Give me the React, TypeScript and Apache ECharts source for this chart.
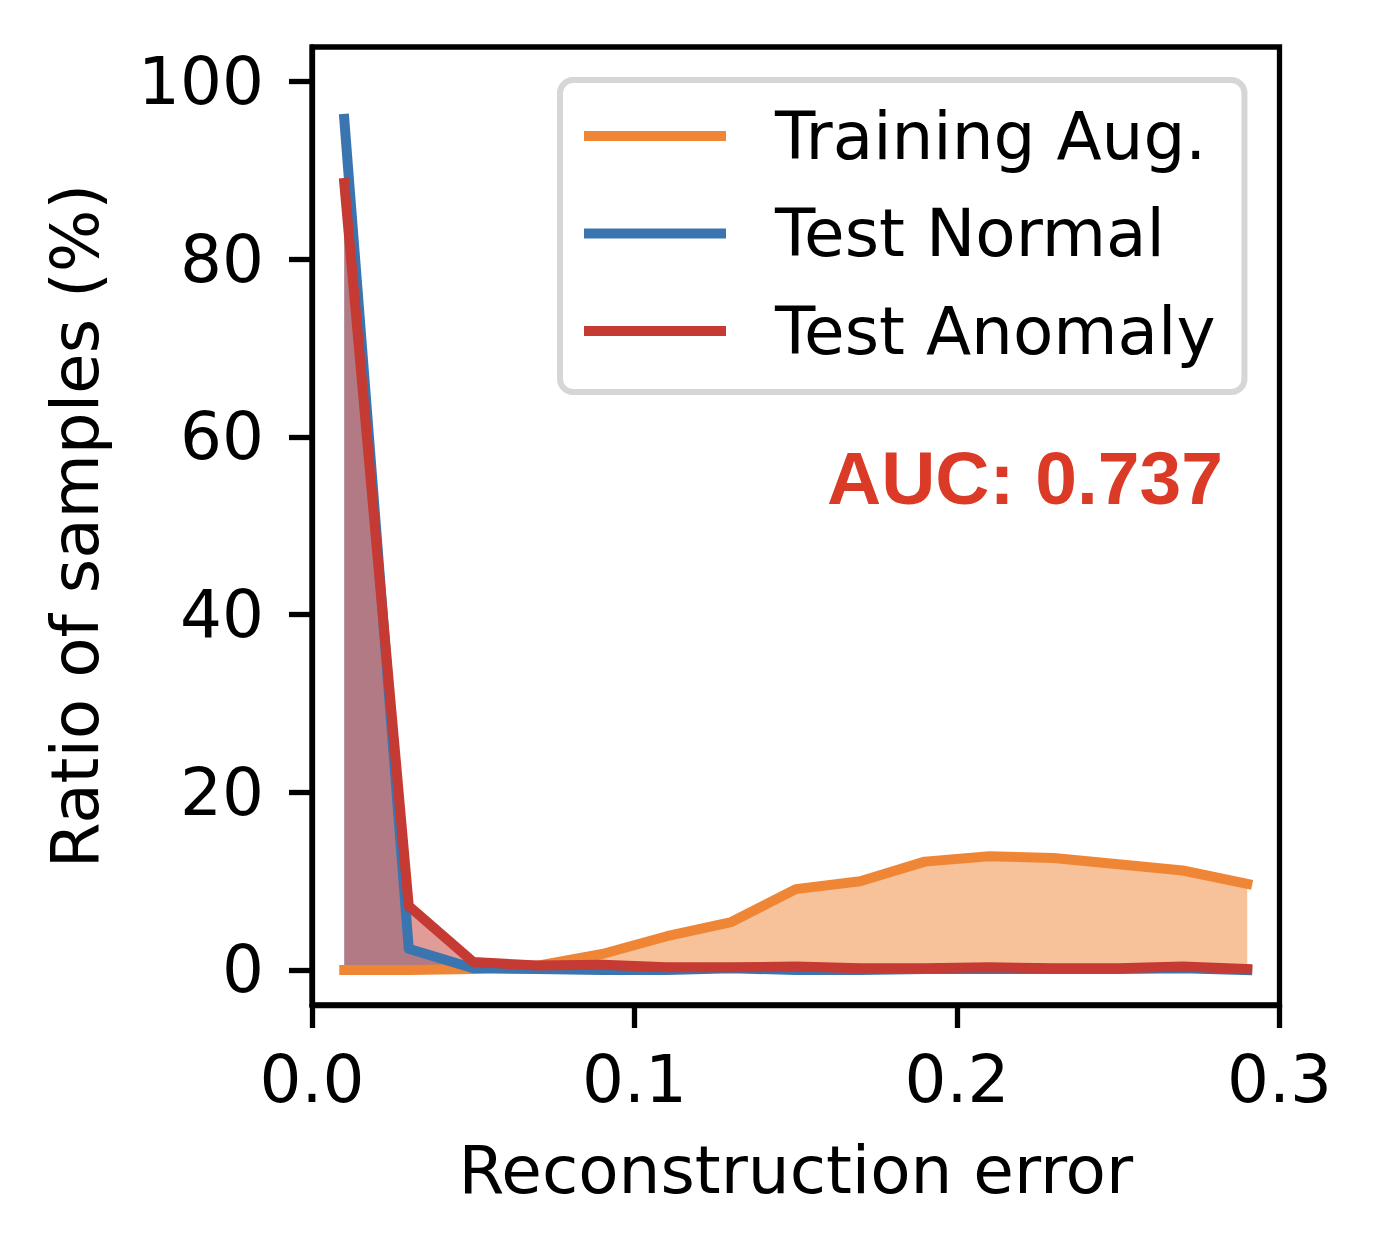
import React, { useEffect, useRef } from "react";
import * as echarts from "echarts";

const errorBins = [0.01, 0.03, 0.05, 0.07, 0.09, 0.11, 0.13, 0.15, 0.17, 0.19, 0.21, 0.23, 0.25, 0.27, 0.29];
const trainingAug = [0.0, 0.0, 0.1, 0.5, 1.8, 3.8, 5.4, 9.1, 10.0, 12.2, 12.8, 12.6, 11.9, 11.2, 9.7];
const testNormal = [95.8, 2.4, 0.2, 0.1, 0.0, 0.0, 0.2, 0.0, 0.0, 0.1, 0.1, 0.1, 0.1, 0.2, 0.0];
const testAnomaly = [88.6, 7.2, 0.9, 0.5, 0.6, 0.3, 0.3, 0.4, 0.2, 0.2, 0.3, 0.2, 0.2, 0.4, 0.1];

const seriesNames = ["Training Aug.", "Test Normal", "Test Anomaly"];
const seriesColors = ["#EF8636", "#3B75AF", "#C53A32"];
const xTickValues = [0, 0.1, 0.2, 0.3];
const yTickValues = [0, 20, 40, 60, 80, 100];
const xAxisTitle = "Reconstruction error";
const yAxisTitle = "Ratio of samples (%)";
const aucLabel = "AUC: 0.737";

const FONT = "DejaVu Sans";
const FS = 66;
const SPINE = 5.3;

export default function App() {
  const ref = useRef<HTMLDivElement>(null);

  useEffect(() => {
    if (!ref.current) return;
    const chart = echarts.init(ref.current, undefined, { renderer: "svg" });
    const allSeries = [trainingAug, testNormal, testAnomaly];
    const pairs = allSeries.map((vals) => errorBins.map((x, i) => [x, vals[i]]));

    const fillSeries = pairs.map((data, i) => ({
      type: "line",
      name: seriesNames[i] + " fill",
      data,
      symbol: "none",
      showSymbol: false,
      silent: true,
      z: 2,
      lineStyle: { width: 0, opacity: 0 },
      itemStyle: { color: seriesColors[i] },
      areaStyle: { color: seriesColors[i], opacity: 0.5, origin: 0 },
    }));
    const lineSeries = pairs.map((data, i) => ({
      type: "line",
      name: seriesNames[i],
      data,
      symbol: "none",
      showSymbol: false,
      z: 3,
      itemStyle: { color: seriesColors[i] },
      lineStyle: { width: 10, color: seriesColors[i], join: "round", cap: "square" },
    }));

    chart.setOption({
      animation: false,
      backgroundColor: "#ffffff",
      grid: {
        left: 312,
        right: 100.5,
        top: 47,
        bottom: 251,
        show: true,
        borderColor: "#000",
        borderWidth: SPINE,
        backgroundColor: "transparent",
        containLabel: false,
      },
      xAxis: {
        type: "value",
        min: 0,
        max: 0.3,
        interval: 0.1,
        name: xAxisTitle,
        nameLocation: "middle",
        nameGap: 132,
        nameTextStyle: { fontFamily: FONT, fontSize: FS, color: "#000" },
        axisLine: { show: true, onZero: false, lineStyle: { color: "#000", width: SPINE } },
        axisTick: { show: true, inside: false, length: 23, lineStyle: { color: "#000", width: SPINE } },
        axisLabel: {
          fontFamily: FONT,
          fontSize: FS,
          color: "#000",
          margin: 41,
          formatter: (v: number) => v.toFixed(1),
          customValues: xTickValues,
        },
        splitLine: { show: false },
      },
      yAxis: {
        type: "value",
        min: -3.94,
        max: 103.9,
        name: yAxisTitle,
        nameLocation: "middle",
        nameGap: 204,
        nameTextStyle: { fontFamily: FONT, fontSize: FS, color: "#000" },
        axisLine: { show: true, onZero: false, lineStyle: { color: "#000", width: SPINE } },
        axisTick: {
          show: true,
          inside: false,
          length: 23,
          lineStyle: { color: "#000", width: SPINE },
          customValues: yTickValues,
        },
        axisLabel: {
          fontFamily: FONT,
          fontSize: FS,
          color: "#000",
          margin: 48,
          padding: [6, 0, 0, 0],
          customValues: yTickValues,
          formatter: (v: number) => String(Math.round(v)),
        },
        splitLine: { show: false },
      },
      legend: {
        show: true,
        orient: "vertical",
        left: 560,
        top: 80,
        data: seriesNames,
        icon: "rect",
        itemWidth: 142,
        itemHeight: 10,
        itemGap: 31.5,
        padding: [23, 29, 28, 24],
        backgroundColor: "rgba(255,255,255,0.8)",
        borderColor: "#d6d6d6",
        borderWidth: 6,
        borderRadius: 13,
        selectedMode: false,
        textStyle: {
          fontFamily: FONT,
          fontSize: FS,
          color: "#000",
          padding: [0, 0, 0, 44],
        },
      },
      graphic: [
        {
          type: "text",
          x: 1223,
          y: 478,
          z: 10,
          style: {
            text: aucLabel,
            fontFamily: "Liberation Sans",
            fontWeight: "bold",
            fontSize: 75,
            fill: "#DB3B26",
            align: "right",
            verticalAlign: "middle",
          },
        },
      ],
      series: [...fillSeries, ...lineSeries],
    });

    return () => chart.dispose();
  }, []);

  return (
    <div
      ref={ref}
      style={{ position: "absolute", left: 0, top: 0, width: 1380, height: 1256 }}
    />
  );
}
